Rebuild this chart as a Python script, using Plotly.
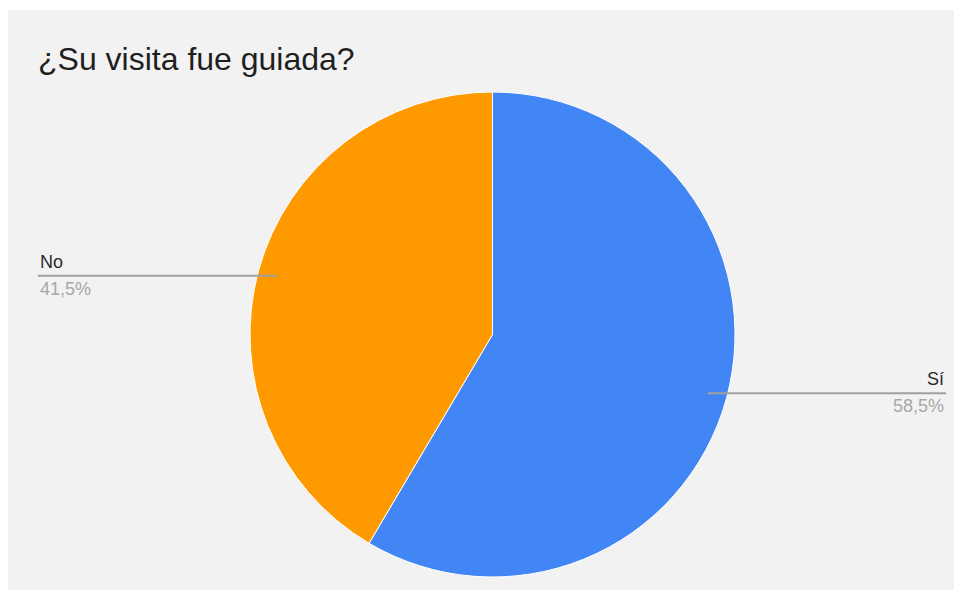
import math
import plotly.graph_objects as go

labels = ["Sí", "No"]
values = [58.5, 41.5]
pct_text = ["58,5%", "41,5%"]
colors = ["#4285f4", "#ff9900"]

W, H = 962, 598
OFF = 8  # default page body margin shifts the figure
cx, cy, R = 492.5 - OFF, 334.5 - OFF, 242.5
FONT = "Liberation Sans, Arial"

def px_x(x):
    return x / W

def px_y(y):
    return 1 - y / H

fig = go.Figure(go.Pie(
    labels=labels, values=values, sort=False, direction="clockwise", rotation=0,
    marker=dict(colors=colors, line=dict(color="#ffffff", width=1)),
    textinfo="none", hoverinfo="label+percent", showlegend=False,
    domain=dict(x=[px_x(cx - R), px_x(cx + R)], y=[px_y(cy + R), px_y(cy - R)]),
))

shapes = [dict(type="rect", xref="paper", yref="paper", x0=px_x(0), x1=px_x(950),
               y0=px_y(582), y1=px_y(2), fillcolor="#f2f2f2", line=dict(width=0), layer="below")]
annotations = [dict(text="¿Su visita fue guiada?", x=px_x(36 - OFF), y=px_y(39 - OFF),
                    xref="paper", yref="paper", xanchor="left", yanchor="top", showarrow=False,
                    font=dict(family=FONT, size=32, color="#1f1f1f"))]

total = sum(values)
start = 0.0
for lab, v, pt in zip(labels, values, pct_text):
    mid = (start + v / 2) / total * 2 * math.pi
    start += v
    lx = cx + 0.92 * R * math.sin(mid)
    ly = cy - 0.92 * R * math.cos(mid)
    if math.sin(mid) > 0:
        x_end, anchor = 946 - OFF, "right"
    else:
        x_end, anchor = 38 - OFF, "left"
    shapes.append(dict(type="line", xref="paper", yref="paper", x0=px_x(lx), x1=px_x(x_end),
                       y0=px_y(ly), y1=px_y(ly), line=dict(color="#a0a0a0", width=2)))
    annotations.append(dict(text=lab, x=px_x(x_end), y=px_y(ly - 2), xref="paper", yref="paper",
                            xanchor=anchor, yanchor="bottom", showarrow=False,
                            font=dict(family=FONT, size=18, color="#2a2a2a")))
    annotations.append(dict(text=pt, x=px_x(x_end), y=px_y(ly + 1), xref="paper", yref="paper",
                            xanchor=anchor, yanchor="top", showarrow=False,
                            font=dict(family=FONT, size=18, color="#a8a8a8")))

fig.update_layout(width=W, height=H, margin=dict(l=0, r=0, t=0, b=0),
                  paper_bgcolor="#ffffff", shapes=shapes, annotations=annotations)
fig.write_html("out.html")
